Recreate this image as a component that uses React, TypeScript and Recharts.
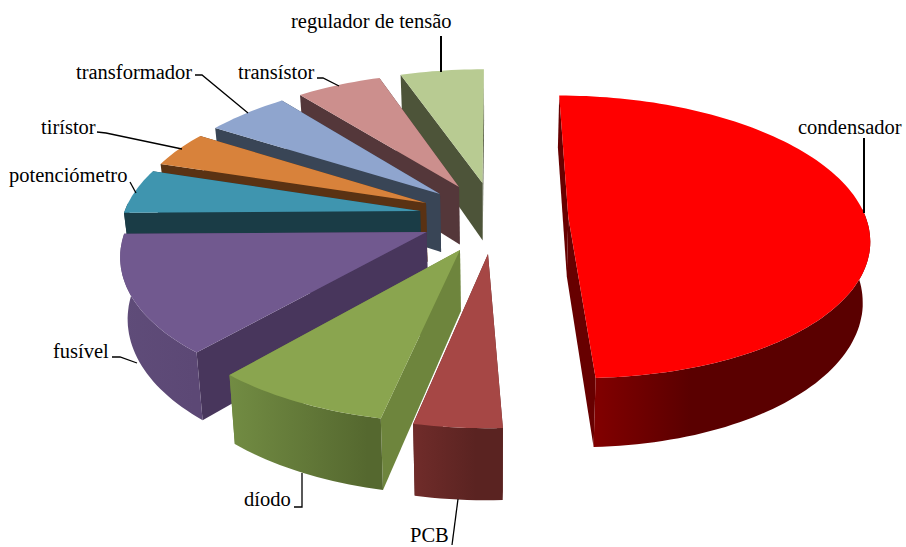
import { PieChart, Pie } from "recharts"

// share of each component type, counter-clockwise from twelve o'clock so later slices paint over earlier ones
const names = [
  "regulador de tensão",
  "transístor",
  "transformador",
  "tirístor",
  "potenciómetro",
  "fusível",
  "díodo",
  "PCB",
  "condensador",
]
const shares = [5.3, 5.4, 5.3, 4.1, 5.1, 13.4, 8.1, 4.0, 49.3]

const data = names.map((name, i) => ({ name, value: shares[i] }))

const WIDTH = 906
const HEIGHT = 547
const CX = 494
const CY = 226
const RADIUS = 300
const TILT = 0.47 // squash of the pie plane
const DEPTH = 60 // slab thickness
const HORIZON = 1000 // perspective distance

// how far each slice is pulled out of the pie, in plane units
const EXPLODE: Record<string, [number, number]> = {
  "fusível": [-67, 6],
  "potenciómetro": [-75, -15.2],
  "tirístor": [-69.6, -23.5],
  "transformador": [-55.8, -33],
  "transístor": [-36.4, -40.6],
  "regulador de tensão": [-12, -44.9],
  "condensador": [75, -9],
  "PCB": [-5.8, 27.2],
  "díodo": [-33.2, 23.4],
}

// top face, cut face, wall gradient start and end, where the gradient settles
const PALETTE: Record<string, [string, string, string, string, number]> = {
  "fusível": ["#71598f", "#48365c", "#5f4c79", "#5c4875", 0.9],
  "potenciómetro": ["#3f95af", "#1a3c46", "#1a3c46", "#1a3c46", 1],
  "tirístor": ["#d8823b", "#5a3213", "#5a3213", "#5a3213", 1],
  "transformador": ["#8fa5ce", "#394556", "#394556", "#394556", 1],
  "transístor": ["#cc8f8d", "#54373a", "#54373a", "#54373a", 1],
  "regulador de tensão": ["#b8cb92", "#4d5439", "#4d5439", "#4d5439", 1],
  "condensador": ["#ff0000", "#670000", "#820000", "#5a0000", 0.35],
  "PCB": ["#a64745", "#5f2624", "#702c2a", "#5a2321", 0.7],
  "díodo": ["#8aa54f", "#6e853d", "#728c43", "#55682f", 0.9],
}

// text anchor (left edge, baseline), leader polyline and leader weight
const LABELS: Record<string, { x: number; y: number; leader: string; weight: number }> = {
  "fusível": { x: 53, y: 358, leader: "112,357 120,357 137,363", weight: 1.3 },
  "potenciómetro": { x: 9, y: 182, leader: "130,182 136,193", weight: 1.3 },
  "tirístor": { x: 41, y: 134, leader: "97,132 106,133 182,149", weight: 1.3 },
  "transformador": { x: 76, y: 79, leader: "195,75 202,75 248,113", weight: 1.3 },
  "transístor": { x: 238, y: 79, leader: "317,78 323,78 339,86", weight: 1.3 },
  "regulador de tensão": { x: 291, y: 28, leader: "441,36 441,72", weight: 2 },
  "condensador": { x: 798, y: 134, leader: "864,138 864,213", weight: 2 },
  "PCB": { x: 410, y: 542, leader: "452,545 458,499", weight: 1.3 },
  "díodo": { x: 244, y: 506, leader: "294,507 302,507 302,473", weight: 1.3 },
}

const RAD = Math.PI / 180

function project(x: number, y: number, z: number) {
  const s = 1 / (1 - y / HORIZON)
  return {
    x: CX + x * s * (1 - z / 3000),
    y: CY + (y + z) * s,
  }
}

function toPath(points: { x: number; y: number }[]) {
  return "M" + points.map((p) => `${p.x.toFixed(1)},${p.y.toFixed(1)}`).join("L") + "Z"
}

function Slice3D(props: any) {
  const { startAngle, endAngle, outerRadius, index } = props
  const name: string = props.name ?? props.payload?.name ?? names[index]
  const [ox, oy] = EXPLODE[name]
  const [top, cut, wallA, wallB, settle] = PALETTE[name]

  const rim = (deg: number, z: number) =>
    project(
      ox + outerRadius * Math.cos(deg * RAD),
      oy - outerRadius * TILT * Math.sin(deg * RAD),
      z,
    )

  const steps = Math.max(2, Math.ceil(Math.abs(endAngle - startAngle) / 1.5))
  const angles = Array.from(
    { length: steps + 1 },
    (_, i) => startAngle + ((endAngle - startAngle) * i) / steps,
  )

  const apex = project(ox, oy, 0)
  const apexLow = project(ox, oy, DEPTH)
  const topFace = [apex, ...angles.map((a) => rim(a, 0))]

  const cutFace = (deg: number) => [apex, rim(deg, 0), rim(deg, DEPTH), apexLow]

  // only the part of the rim that faces the viewer gets a wall
  const front = angles.filter((a) => Math.sin(a * RAD) < 0.08)
  const wall = [
    ...front.map((a) => rim(a, 0)),
    ...[...front].reverse().map((a) => rim(a, DEPTH)),
  ]
  const gradId = `wall-${index}`

  return (
    <g>
      <defs>
        <linearGradient id={gradId} x1="0" y1="0" x2="1" y2="0">
          <stop offset="0" stopColor={wallA} />
          <stop offset={settle} stopColor={wallB} />
          <stop offset="1" stopColor={wallB} />
        </linearGradient>
      </defs>
      <path d={toPath(cutFace(startAngle))} fill={cut} />
      <path d={toPath(cutFace(endAngle))} fill={cut} />
      {front.length > 1 && <path d={toPath(wall)} fill={`url(#${gradId})`} />}
      <path d={toPath(topFace)} fill={top} />
    </g>
  )
}

function SliceLabel(props: any) {
  const name: string = props.name ?? props.payload?.name ?? names[props.index]
  const label = LABELS[name]
  return (
    <g>
      <polyline
        points={label.leader}
        fill="none"
        stroke="#000"
        strokeWidth={label.weight}
      />
      <text
        x={label.x}
        y={label.y}
        textAnchor="start"
        fontFamily="'Liberation Serif', serif"
        fontSize={20.5}
        fill="#000"
      >
        {name}
      </text>
    </g>
  )
}

export default function App() {
  return (
    <div style={{ position: "absolute", left: 0, top: 0, width: WIDTH, height: HEIGHT, background: "#fff" }}>
      <PieChart width={WIDTH} height={HEIGHT} margin={{ top: 0, right: 0, bottom: 0, left: 0 }}>
        <Pie
          data={data}
          dataKey="value"
          nameKey="name"
          cx={CX}
          cy={CY}
          innerRadius={0}
          outerRadius={RADIUS}
          startAngle={90}
          endAngle={450}
          stroke="none"
          shape={Slice3D}
          label={SliceLabel}
          labelLine={false}
          isAnimationActive={false}
        />
      </PieChart>
    </div>
  )
}
